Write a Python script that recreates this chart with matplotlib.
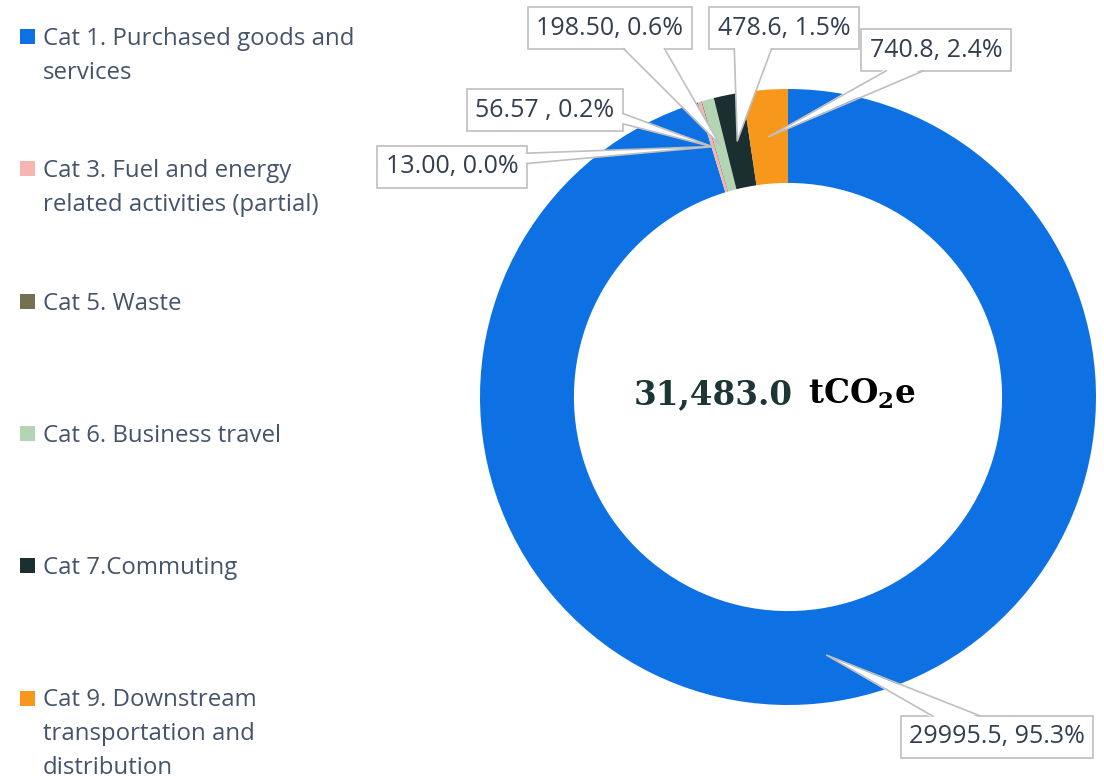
import matplotlib
matplotlib.use('Agg')
import matplotlib.pyplot as plt
from matplotlib.patches import Rectangle, Polygon
import numpy as np

categories = ['Cat 1. Purchased goods and\nservices',
              'Cat 3. Fuel and energy\nrelated activities (partial)',
              'Cat 5. Waste',
              'Cat 6. Business travel',
              'Cat 7.Commuting',
              'Cat 9. Downstream\ntransportation and\ndistribution']
values = [29995.5, 56.57, 13.00, 198.50, 478.6, 740.8]
value_text = ['29995.5', '56.57 ', '13.00', '198.50', '478.6', '740.8']
colors = ['#0E71E3', '#F8B4B0', '#767052', '#B4D5B4', '#1B2F31', '#F7981D']

total = sum(values)
pcts = [v / total * 100 for v in values]

plt.rcParams['mathtext.fontset'] = 'dejavuserif'

W, H = 1104, 780
cx, cy, R = 788, 397, 308      # donut centre / outer radius in pixels
ring = 0.305                   # ring width as fraction of radius
edge = '#BFBFBF'

fig = plt.figure(figsize=(W / 100, H / 100), dpi=100)
ax = fig.add_axes([0, 0, 1, 1])
wedges, _ = ax.pie(values, colors=colors, radius=1, startangle=90, counterclock=False,
                   wedgeprops=dict(width=ring, edgecolor='none'))
ax.set_xlim(-cx / R, (W - cx) / R)
ax.set_ylim(-(H - cy) / R, cy / R)
ax.set_aspect('auto')
ax.axis('off')

# overlay axes in image pixel coords (y down) for legend, labels and centre text
lax = fig.add_axes([0, 0, 1, 1])
lax.set_xlim(0, W)
lax.set_ylim(H, 0)
lax.axis('off')

# legend down the left side
for i, (name, col) in enumerate(zip(categories, colors)):
    base = 45 + 132.3 * i
    lax.add_patch(Rectangle((20, base - 16), 15, 15, color=col, lw=0))
    for j, line in enumerate(name.split('\n')):
        lax.text(43, base + 34 * j, line, fontsize=17.3, color='#44546A',
                 family='Open Sans', va='baseline', ha='left')

# data labels in boxes
label_xy = [(997, 737), (545, 110), (452, 167), (610, 28), (784, 28), (936, 50)]
texts, tips = [], []
for w, vt, p, (tx, ty) in zip(wedges, value_text, pcts, label_xy):
    mid = np.deg2rad((w.theta1 + w.theta2) / 2)
    r = 1 - ring / 2
    tips.append((cx + R * r * np.cos(mid), cy - R * r * np.sin(mid)))
    t = lax.text(tx, ty, f'{vt}, {p:.1f}%', ha='center', va='center', fontsize=18,
                 family='Open Sans', color='#333F4F',
                 bbox=dict(boxstyle='square,pad=0.33', fc='white', ec=edge, lw=1.2))
    texts.append(t)

# callout wedges, Excel style (base = a quarter of the box side)
fig.canvas.draw()
inv = lax.transData.inverted()
for t, (px, py) in zip(texts, tips):
    bb = t.get_bbox_patch().get_window_extent()
    (xa, ya), (xb, yb) = inv.transform([[bb.x0, bb.y0], [bb.x1, bb.y1]])
    left, right = min(xa, xb), max(xa, xb)
    top, bot = min(ya, yb), max(ya, yb)
    w, h = right - left, bot - top
    dx, dy = px - (left + right) / 2, py - (top + bot) / 2
    if abs(dy) - abs(dx * h / w) > 0:
        g1, g2 = (7, 10) if dx > 0 else (2, 5)
        ye = top if dy < 0 else bot
        s = 2 if dy < 0 else -2
        b1, b2 = (left + w * g1 / 12, ye), (left + w * g2 / 12, ye)
        c1, c2 = (b1[0], ye + s), (b2[0], ye + s)
    else:
        g1, g2 = (7, 10) if dy > 0 else (2, 5)
        xe = left if dx < 0 else right
        s = 2 if dx < 0 else -2
        b1, b2 = (xe, top + h * g1 / 12), (xe, top + h * g2 / 12)
        c1, c2 = (xe + s, b1[1]), (xe + s, b2[1])
    lax.add_patch(Polygon([c1, (px, py), c2], closed=True, fc='white', ec='none', zorder=4))
    lax.plot([b1[0], px, b2[0]], [b1[1], py, b2[1]], color=edge, lw=1.2, zorder=4)

# total in the hole
lax.text(793, 404, f'{total:,.1f}', ha='right', va='baseline', fontsize=23.5,
         family='DejaVu Serif', weight='bold', color='#1D3536')
lax.text(808, 404, r'$\mathbf{tCO_2e}$', ha='left', va='baseline', fontsize=23.5,
         color='black')

fig.savefig('out.png', dpi=100)
